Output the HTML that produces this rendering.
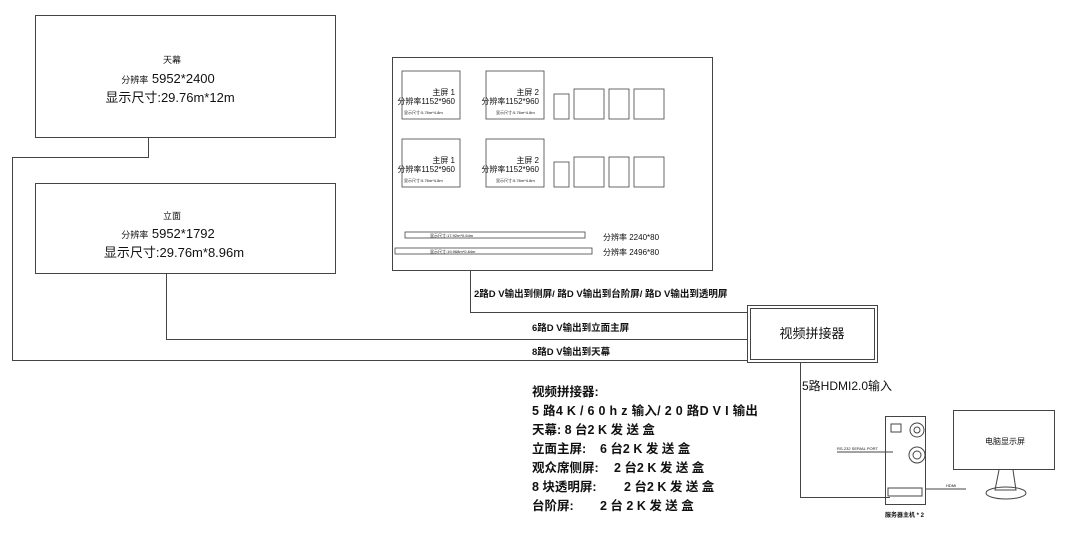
<!DOCTYPE html>
<html><head><meta charset="utf-8"><style>
body{margin:0;background:#fff;width:1080px;height:559px;overflow:hidden}
svg{display:block}
text{font-family:"Liberation Sans","Noto Sans CJK SC",sans-serif;fill:#111}
.b{font-weight:bold}
</style></head><body>
<svg width="1080" height="559" viewBox="0 0 1080 559" fill="none" stroke="#444" stroke-width="1">
<rect x="35.5" y="15.5" width="300" height="122"/>
<text x="172" y="63" font-size="9" text-anchor="middle" stroke="none">天幕</text>
<text x="168" y="83" font-size="13" text-anchor="middle" stroke="none"><tspan font-size="9">分辨率</tspan> 5952*2400</text>
<text x="170" y="102" font-size="13" text-anchor="middle" stroke="none">显示尺寸:29.76m*12m</text>
<rect x="35.5" y="183.5" width="300" height="90"/>
<text x="172" y="219" font-size="9" text-anchor="middle" stroke="none">立面</text>
<text x="168" y="238" font-size="13" text-anchor="middle" stroke="none"><tspan font-size="9">分辨率</tspan> 5952*1792</text>
<text x="174" y="257" font-size="13" text-anchor="middle" stroke="none">显示尺寸:29.76m*8.96m</text>
<polyline points="148.5,137 148.5,157.5 12.5,157.5 12.5,360.5 748,360.5"/>
<polyline points="166.5,273 166.5,339.5 748,339.5"/>
<polyline points="470.5,270 470.5,312.5 748,312.5"/>
<polyline points="800.5,362 800.5,497.5 890,497.5"/>
<rect x="392.5" y="57.5" width="320" height="213"/>
<g stroke-width="0.8">
<rect x="402" y="71" width="58" height="48"/><rect x="486" y="71" width="58" height="48"/>
<rect x="554" y="94" width="15" height="25"/><rect x="574" y="89" width="30" height="30"/><rect x="609" y="89" width="20" height="30"/><rect x="634" y="89" width="30" height="30"/>
<rect x="402" y="139" width="58" height="48"/><rect x="486" y="139" width="58" height="48"/>
<rect x="554" y="162" width="15" height="25"/><rect x="574" y="157" width="30" height="30"/><rect x="609" y="157" width="20" height="30"/><rect x="634" y="157" width="30" height="30"/>
<rect x="405" y="232" width="180" height="6"/><rect x="395" y="248" width="197" height="6"/>
</g>
<g stroke="none" font-size="8">
<text x="455" y="95" text-anchor="end">主屏 1</text><text x="455" y="104" text-anchor="end">分辨率1152*960</text><text x="404" y="114" font-size="4">显示尺寸:5.76m*4.8m</text>
<text x="539" y="95" text-anchor="end">主屏 2</text><text x="539" y="104" text-anchor="end">分辨率1152*960</text><text x="496" y="114" font-size="4">显示尺寸:5.76m*4.8m</text>
<text x="455" y="163" text-anchor="end">主屏 1</text><text x="455" y="172" text-anchor="end">分辨率1152*960</text><text x="404" y="182" font-size="4">显示尺寸:5.76m*4.8m</text>
<text x="539" y="163" text-anchor="end">主屏 2</text><text x="539" y="172" text-anchor="end">分辨率1152*960</text><text x="496" y="182" font-size="4">显示尺寸:5.76m*4.8m</text>
<text x="430" y="237" font-size="4">显示尺寸:17.92m*0.64m</text>
<text x="430" y="253" font-size="4">显示尺寸:19.968m*0.64m</text>
<text x="603" y="240">分辨率 2240*80</text><text x="603" y="255">分辨率 2496*80</text>
</g>
<rect x="747.5" y="305.5" width="130" height="57"/><rect x="750.5" y="308.5" width="124" height="51"/>
<text x="812" y="338" font-size="13" text-anchor="middle" stroke="none">视频拼接器</text>
<g stroke="none" font-size="9.5">
<text x="474" y="297" class="b">2路D V输出到侧屏/ 路D V输出到台阶屏/ 路D V输出到透明屏</text>
<text x="532" y="331" class="b">6路D V输出到立面主屏</text>
<text x="532" y="355" class="b">8路D V输出到天幕</text>
</g>
<text x="802" y="390" font-size="12" stroke="none">5路HDMI2.0输入</text>
<g stroke="none" font-size="12.5">
<text x="532" y="396" class="b">视频拼接器:</text>
<text x="532" y="415" class="b" letter-spacing="0.3">5 路4 K / 6 0 h z 输入/ 2 0 路D V I 输出</text>
<text x="532" y="434" class="b">天幕: 8 台2 K 发 送 盒</text>
<text x="532" y="453" class="b">立面主屏:<tspan x="600">6 台2 K 发 送 盒</tspan></text>
<text x="532" y="472" class="b">观众席侧屏:<tspan x="614">2 台2 K 发 送 盒</tspan></text>
<text x="532" y="491" class="b">8 块透明屏:<tspan x="624">2 台2 K 发 送 盒</tspan></text>
<text x="532" y="510" class="b">台阶屏:<tspan x="600">2 台 2 K 发 送 盒</tspan></text>
</g>
<rect x="885.5" y="416.5" width="40" height="88"/>
<circle cx="917" cy="430" r="7"/><circle cx="917" cy="430" r="3"/>
<circle cx="917" cy="455" r="8"/><circle cx="917" cy="455" r="4"/>
<rect x="891" y="424" width="10" height="8"/>
<rect x="888" y="488" width="34" height="8"/>
<polyline points="837,452 893,452"/><polyline points="926,489 966,489"/>
<text x="837" y="450" font-size="4" stroke="none">RS-232 SERIAL PORT</text>
<text x="946" y="487" font-size="4" stroke="none">HDMI</text>
<text x="885" y="517" font-size="6" stroke="none" class="b">服务器主机 * 2</text>
<rect x="953.5" y="410.5" width="101" height="59"/>
<text x="985" y="444" font-size="8" stroke="none">电脑显示屏</text>
<polyline points="999,470 995,490 1016,490 1013,470"/>
<ellipse cx="1006" cy="493" rx="20" ry="6"/>
</svg>
</body></html>
